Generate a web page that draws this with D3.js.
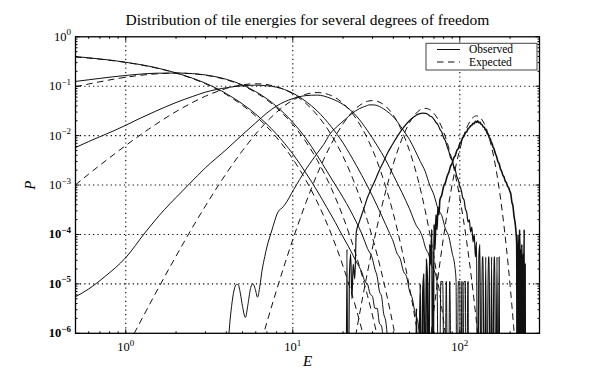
<!doctype html>
<html>
  <head>
    <title>Distribution of tile energies</title>
    <style>
      * { margin: 0; padding: 0; }
      body { background: #fff; }
      svg { display: block; }
      text { font-family: "Liberation Serif", "DejaVu Serif", serif; fill: #000; }
    </style>
    <script src="https://cdnjs.cloudflare.com/ajax/libs/d3/7.8.5/d3.min.js"></script>
  </head>
  <body>
    <script>
      // expected curves, [E, P]
      var exp2 = [[0.5,0.389],[0.6,0.370],[0.7,0.352],[0.85,0.327],[1,0.303],[1.2,0.274],[1.5,0.236],[2,0.184],[2.5,0.143],[3,0.112],[4,0.0677],[5,0.0410],[6,0.0249],[7,0.0151],[8,0.00916],[10,0.00337],[12,0.00124],[14,4.56e-4],[17,1.02e-4],[20,2.27e-5],[24,3.07e-6],[28,4.16e-7],[32,5.6e-8]];
      var exp4 = [[0.5,0.0973],[0.6,0.111],[0.7,0.123],[0.85,0.139],[1,0.152],[1.2,0.165],[1.5,0.177],[2,0.184],[2.5,0.179],[3,0.167],[4,0.135],[5,0.103],[6,0.0747],[7,0.0529],[8,0.0366],[10,0.0168],[12,0.00744],[14,0.00319],[17,8.65e-4],[20,2.27e-4],[24,3.69e-5],[28,5.82e-6],[32,9.0e-7],[36,1.37e-7]];
      var exp8 = [[0.5,1.01e-3],[0.6,1.67e-3],[0.7,2.52e-3],[0.85,4.18e-3],[1,6.32e-3],[1.2,9.88e-3],[1.5,0.0166],[2,0.0307],[2.5,0.0466],[3,0.0628],[4,0.0902],[5,0.107],[6,0.112],[7,0.108],[8,0.0977],[10,0.0702],[12,0.0446],[14,0.0261],[17,0.0104],[20,3.78e-3],[24,8.85e-4],[28,1.90e-4],[32,3.84e-5],[36,7.40e-6],[40,1.37e-6],[45,1.6e-7]];
      var exp16 = [[0.85,1.6e-7],[1,4.7e-7],[1.2,1.52e-6],[1.5,6.25e-6],[2,3.65e-5],[2.5,1.36e-4],[3,3.78e-4],[4,1.72e-3],[5,4.97e-3],[6,0.0108],[7,0.0193],[8,0.0298],[10,0.0522],[12,0.0688],[14,0.0745],[17,0.0647],[20,0.0450],[24,0.0218],[28,8.70e-3],[32,3.00e-3],[36,9.25e-4],[40,2.62e-4],[45,4.9e-5],[50,8.4e-6],[56,9.3e-7],[62,9.4e-8]];
      var exp32 = [[6,2.73e-7],[7,1.67e-6],[8,7.52e-6],[9,2.67e-5],[10,7.86e-5],[11,1.99e-4],[12,4.46e-4],[14,1.66e-3],[17,6.80e-3],[20,0.0174],[24,0.0362],[28,0.0495],[30,0.0512],[32,0.0496],[36,0.0393],[40,0.0258],[45,0.0124],[50,4.94e-3],[56,1.35e-3],[62,3.09e-4],[65,1.4e-4],[70,3.49e-5],[75,8.07e-6],[80,1.74e-6],[90,6.9e-8]];
      var exp64 = [[22,1.95e-7],[24,1.06e-6],[28,1.71e-5],[32,1.46e-4],[36,7.59e-4],[40,2.69e-3],[45,8.51e-3],[50,0.0183],[56,0.0306],[59,0.0344],[62,0.0357],[66,0.0336],[70,0.0282],[75,0.0196],[80,0.0119],[85,6.4e-3],[90,3.09e-3],[95,1.36e-3],[100,5.46e-4],[105,2.03e-4],[110,7.06e-5],[117,1.44e-5],[125,2.06e-6],[130,5.7e-7],[140,3.8e-8]];
      var exp128 = [[62,7.8e-8],[66,5.45e-7],[70,3.0e-6],[75,1.9e-5],[80,9.12e-5],[85,3.41e-4],[90,1.03e-3],[95,2.54e-3],[100,5.28e-3],[105,9.37e-3],[110,0.0144],[118,0.022],[126,0.0251],[132,0.0234],[140,0.0175],[150,9.09e-3],[160,3.57e-3],[170,1.1e-3],[180,2.71e-4],[190,5.5e-5],[200,9.4e-6],[210,1.37e-6],[220,1.7e-7]];

      // observed curves (1e-9 = empty bin, drawn down off the axis)
      var obs2 = [[0.5,0.398],[0.6,0.376],[0.7,0.356],[0.85,0.330],[1,0.305],[1.2,0.277],[1.5,0.239],[2,0.186],[2.5,0.146],[3,0.115],[4,0.0708],[5,0.0437],[6,0.0272],[7,0.0170],[8,0.0107],[10,0.00427],[12,0.00174],[14,7.6e-4],[16,3.5e-4],[18,1.74e-4],[20,8.9e-5],[22,5.0e-5],[24,2.8e-5],[26,1.66e-5],[27,1.12e-5],[28,1.0e-5],[29,6.3e-6],[30,5.6e-6],[31,3.2e-6],[32,3.2e-6],[33,1.6e-6],[34,1.4e-6],[35,6.3e-7],[36,5e-7]];
      var obs4 = [[0.5,0.125],[0.6,0.135],[0.7,0.144],[0.85,0.156],[1,0.165],[1.2,0.175],[1.5,0.183],[2,0.185],[2.5,0.180],[3,0.169],[4,0.138],[5,0.106],[6,0.0776],[7,0.0556],[8,0.0389],[10,0.0186],[12,0.0087],[14,0.00398],[16,0.00191],[18,0.001],[20,5.6e-4],[22,3.16e-4],[24,1.78e-4],[26,1.0e-4],[28,5.2e-5],[30,3.2e-5],[31,2.0e-5],[32,1.41e-5],[33,7.1e-6],[34,5.6e-6],[35,2.5e-6],[36,1.78e-6],[37,7.9e-7],[38,5e-7]];
      var obs8 = [[0.5,5.75e-3],[0.6,7.6e-3],[0.7,9.5e-3],[0.85,0.0126],[1,0.0162],[1.2,0.0219],[1.5,0.0309],[2,0.0468],[2.5,0.0617],[3,0.0759],[4,0.0933],[5,0.102],[6,0.105],[7,0.102],[8,0.0955],[10,0.0724],[12,0.049],[14,0.0316],[17,0.0151],[20,7.1e-3],[24,2.5e-3],[28,9.5e-4],[32,3.8e-4],[36,1.58e-4],[38,1.05e-4],[40,7.1e-5],[42,4.2e-5],[44,3.2e-5],[46,1.78e-5],[48,1.41e-5],[50,7.1e-6],[52,5e-6],[54,2.5e-6],[56,1.78e-6],[58,7.1e-7],[60,5e-7],[62,1.6e-7]];
      var obs16 = [[0.5,5.5e-6],[0.6,7.9e-6],[0.75,1.41e-5],[1,3.4e-5],[1.3,1.07e-4],[1.7,3.16e-4],[2,5.6e-4],[2.4,1.05e-3],[3,2.24e-3],[4,5.25e-3],[5,0.0105],[6,0.0182],[7,0.0288],[8,0.0398],[10,0.0562],[12,0.0646],[14,0.0661],[17,0.0562],[20,0.0427],[24,0.0251],[28,0.0126],[32,6.3e-3],[36,3.2e-3],[40,1.58e-3],[45,7.1e-4],[50,3.3e-4],[55,1.5e-4],[57.5,1.2e-4],[60,8.5e-5],[62.5,5.2e-5],[65,4.0e-5],[67.5,2.4e-5],[70,1.9e-5],[73,1.12e-5],[75,1e-9],[77,1.12e-5],[79,1.12e-5],[81,1e-9],[83,1.12e-5],[85,1e-9],[87,1.12e-5],[89,1e-9]];
      var obs32 = [[4.0,1e-7],[4.15,1e-6],[4.3,3.5e-6],[4.45,7.5e-6],[4.6,9.8e-6],[4.72,9.5e-6],[4.85,6.5e-6],[5.0,3.5e-6],[5.2,2.1e-6],[5.4,4.0e-6],[5.6,8.5e-6],[5.78,1.0e-5],[5.95,8e-6],[6.15,5.4e-6],[6.35,9e-6],[6.55,1.9e-5],[6.8,3.6e-5],[7.0,5.6e-5],[7.25,8.5e-5],[7.5,1.23e-4],[7.8,1.9e-4],[8.05,2.6e-4],[8.3,3.1e-4],[8.6,3.4e-4],[9.0,4.1e-4],[9.5,5.5e-4],[10.1,8e-4],[11,1.3e-3],[12,2.1e-3],[13,3.1e-3],[14,4.4e-3],[15.3,6.6e-3],[16.7,0.0108],[18.5,0.0155],[20.5,0.021],[22.6,0.028],[25,0.035],[27,0.039],[29,0.042],[31,0.0417],[33,0.0389],[35,0.0347],[38,0.0282],[41,0.0219],[44,0.0158],[47,0.0115],[50,8.3e-3],[54,5e-3],[58,3.0e-3],[62,1.9e-3],[66,1.0e-3],[70,6.3e-4],[74,3.3e-4],[78,2.4e-4],[82,1.3e-4],[86,9e-5],[90,4.2e-5],[93,2.5e-5],[95,1.12e-5],[96,1e-9],[98,1.12e-5],[100,1.12e-5],[101,1e-9],[103,1.12e-5],[104,1e-9],[106,1.12e-5],[108,1.12e-5],[109,1e-9],[112,1.12e-5],[113,1e-9]];
      var obs64 = [[20.8,1e-9],[21.1,5e-5],[21.4,1e-9],[21.8,1.26e-5],[22.2,4e-5],[22.6,5e-6],[23.0,2.5e-5],[23.5,1.26e-5],[24,1.12e-4],[25,1.78e-4],[26.5,3.16e-4],[28,5.6e-4],[29.7,8.9e-4],[31.5,1.38e-3],[33,2.0e-3],[35,3.0e-3],[37,4.5e-3],[39.5,6.6e-3],[42,9.3e-3],[45,0.0132],[48,0.0174],[51,0.0214],[54,0.0251],[57,0.0275],[60,0.0285],[62,0.0282],[64,0.0275],[66,0.0251],[68,0.024],[70,0.0214],[72,0.0186],[74,0.0166],[76,0.0135],[78,0.0117],[80,9.1e-3],[82,7.9e-3],[84,6.0e-3],[86,4.8e-3],[88,3.6e-3],[90,3.2e-3],[92,2.4e-3],[94,2.0e-3],[96,1.48e-3],[98,1.26e-3],[100,9.5e-4],[102,7.9e-4],[104,5.6e-4],[106,5.0e-4],[108,3.3e-4],[110,2.8e-4],[112,1.78e-4],[114,2.0e-4],[116,1.12e-4],[118,1.41e-4],[120,7.1e-5],[122,1e-4],[124,3.5e-5],[126,7.1e-5],[128,1e-9],[130,3.5e-5],[132,6.3e-5],[134,1e-9],[136,3.5e-5],[138,3.5e-5],[140,1e-9],[143,3.5e-5],[145,1e-9],[148,3.5e-5],[150,3.5e-5],[152,1e-9],[155,3.5e-5],[157,1e-9],[160,3.5e-5],[162,3.5e-5],[164,1e-9],[167,3.5e-5],[169,1e-9],[172,3.5e-5],[174,1e-9]];
      var obs128 = [[54,1e-9],[55,3.2e-6],[56,1e-9],[58,1e-5],[59,1e-9],[60,6.3e-6],[61,1.6e-5],[62,1e-9],[63,3.2e-5],[64,1e-5],[65,1e-9],[66,6.3e-5],[67,2.5e-5],[68,1.26e-4],[69,1e-9],[70,1.6e-4],[71,5e-5],[72,2.5e-4],[73,1.26e-4],[74,3.5e-4],[75,2.5e-4],[76,5e-4],[78,6.3e-4],[80,9.5e-4],[82,1.12e-3],[84,1.51e-3],[86,1.82e-3],[88,2.4e-3],[90,2.75e-3],[92,3.55e-3],[94,3.98e-3],[96,5.0e-3],[98,5.5e-3],[100,6.9e-3],[102,7.6e-3],[104,9.1e-3],[106,9.8e-3],[108,0.0115],[110,0.012],[112,0.0138],[114,0.0145],[116,0.0158],[118,0.0162],[120,0.0178],[122,0.0174],[124,0.0195],[126,0.0186],[128,0.020],[130,0.0182],[132,0.0186],[134,0.017],[136,0.0166],[138,0.0151],[140,0.0148],[142,0.0132],[144,0.0126],[146,0.011],[148,0.0105],[150,9.1e-3],[152,8.7e-3],[154,7.4e-3],[156,6.9e-3],[158,5.9e-3],[160,5.5e-3],[163,4.4e-3],[166,3.8e-3],[169,3.0e-3],[172,2.7e-3],[175,2.14e-3],[178,1.9e-3],[181,1.58e-3],[184,1.45e-3],[187,1.2e-3],[190,1.12e-3],[193,9.5e-4],[196,8.9e-4],[199,7.6e-4],[202,6.6e-4],[205,4.5e-4],[208,3.8e-4],[211,2.4e-4],[214,1.78e-4],[217,1.12e-4],[219,6.3e-5],[221,1e-9],[223,1e-4],[225,3.2e-5],[226,1e-9],[228,1.26e-4],[229,4e-5],[230,1e-9],[232,5e-5],[233,1e-9],[235,6.3e-5],[236,2e-5],[237,1e-9],[239,4e-5],[240,1e-9],[242,2.5e-5],[243,1.26e-4],[244,1e-9],[246,2.5e-5],[247,1e-9]];

      var observed = [obs2, obs4, obs8, obs16, obs32, obs64, obs128];
      var expected = [exp2, exp4, exp8, exp16, exp32, exp64, exp128];

      var xTicks = [1, 10, 100];
      var yTicks = [1, 1e-1, 1e-2, 1e-3, 1e-4, 1e-5, 1e-6];

      var width = 600, height = 371;
      var plotL = 75.5, plotR = 539.5, plotT = 36.8, plotB = 333.3;

      var x = d3.scaleLog().domain([0.5, 300]).range([plotL, plotR]);
      var y = d3.scaleLog().domain([1e-6, 1]).range([plotB, plotT]);

      var svg = d3.select("body").append("svg")
                  .attr("width", width)
                  .attr("height", height);

      svg.append("clipPath").attr("id", "plotclip")
         .append("rect")
         .attr("x", plotL).attr("y", plotT)
         .attr("width", plotR - plotL).attr("height", plotB - plotT);

      // dotted grid on the decades
      svg.selectAll("line.gx").data(xTicks).enter().append("line")
         .attr("class", "gx")
         .attr("x1", function(d) { return x(d); }).attr("x2", function(d) { return x(d); })
         .attr("y1", plotT).attr("y2", plotB)
         .attr("stroke", "#000").attr("stroke-width", 1.1)
         .attr("stroke-dasharray", "1.2,3.2");
      svg.selectAll("line.gy").data(yTicks.slice(1, 6)).enter().append("line")
         .attr("class", "gy")
         .attr("y1", function(d) { return y(d); }).attr("y2", function(d) { return y(d); })
         .attr("x1", plotL).attr("x2", plotR)
         .attr("stroke", "#000").attr("stroke-width", 1.1)
         .attr("stroke-dasharray", "1.2,3.2");

      var line = d3.line()
                   .x(function(d) { return x(d[0]); })
                   .y(function(d) { return y(d[1]); })
                   .curve(d3.curveMonotoneX);

      var curves = svg.append("g").attr("clip-path", "url(#plotclip)");
      curves.selectAll("path.exp").data(expected).enter().append("path")
            .attr("class", "exp")
            .attr("d", line)
            .attr("fill", "none")
            .attr("stroke", "#111")
            .attr("stroke-width", 1)
            .attr("stroke-dasharray", "6.5,4.5");
      // the 128-dof histogram is dense noise, so it reads as a heavier line
      curves.selectAll("path.obs").data(observed).enter().append("path")
            .attr("class", "obs")
            .attr("d", line)
            .attr("fill", "none")
            .attr("stroke", "#111")
            .attr("stroke-width", function(d, i) { return i == 6 ? 1.6 : (i == 5 ? 1.2 : 1); });

      // frame
      svg.append("rect")
         .attr("x", plotL).attr("y", plotT)
         .attr("width", plotR - plotL).attr("height", plotB - plotT)
         .attr("fill", "none").attr("stroke", "#000").attr("stroke-width", 1.3);

      // ticks, inside on all four sides
      var xMinor = [];
      [0.1, 1, 10, 100].forEach(function(p) {
        for (var m = 2; m <= 9; m++) {
          var v = m * p;
          if (v >= 0.5 && v <= 300) xMinor.push(v);
        }
      });
      var yMinor = [];
      [1e-6, 1e-5, 1e-4, 1e-3, 1e-2, 1e-1].forEach(function(p) {
        for (var m = 2; m <= 9; m++) yMinor.push(m * p);
      });

      var ticks = svg.append("g").attr("stroke", "#000").attr("stroke-width", 1);
      function xTick(v, len) {
        ticks.append("line").attr("x1", x(v)).attr("x2", x(v)).attr("y1", plotB).attr("y2", plotB - len);
        ticks.append("line").attr("x1", x(v)).attr("x2", x(v)).attr("y1", plotT).attr("y2", plotT + len);
      }
      function yTick(v, len) {
        ticks.append("line").attr("y1", y(v)).attr("y2", y(v)).attr("x1", plotL).attr("x2", plotL + len);
        ticks.append("line").attr("y1", y(v)).attr("y2", y(v)).attr("x1", plotR).attr("x2", plotR - len);
      }
      xTicks.forEach(function(v) { xTick(v, 4); });
      xMinor.forEach(function(v) { xTick(v, 2); });
      yTicks.forEach(function(v) { yTick(v, 4); });
      yMinor.forEach(function(v) { yTick(v, 2); });

      // tick labels
      var xl = svg.selectAll("text.xl").data(xTicks).enter().append("text")
                  .attr("class", "xl")
                  .attr("x", function(d) { return x(d); })
                  .attr("y", 351)
                  .attr("text-anchor", "middle")
                  .attr("font-size", "12.5px");
      xl.append("tspan").text("10");
      xl.append("tspan").attr("dy", -5.5).attr("font-size", "9px")
        .text(function(d) { return Math.round(Math.log10(d)); });

      var yl = svg.selectAll("text.yl").data(yTicks).enter().append("text")
                  .attr("class", "yl")
                  .attr("x", 71)
                  .attr("y", function(d) { return y(d) + 4; })
                  .attr("text-anchor", "end")
                  .attr("font-size", "12.5px")
                  .attr("font-weight", function(d) { return d < 2e-4 ? "bold" : "normal"; });
      yl.append("tspan").text("10");
      yl.append("tspan").attr("dy", -5.5).attr("font-size", "9px")
        .text(function(d) { var e = Math.round(Math.log10(d)); return e < 0 ? "\u2212" + (-e) : e; });

      // titles
      svg.append("text")
         .attr("x", (plotL + plotR) / 2).attr("y", 25)
         .attr("text-anchor", "middle")
         .attr("font-size", "15.5px")
         .text("Distribution of tile energies for several degrees of freedom");
      svg.append("text")
         .attr("x", (plotL + plotR) / 2).attr("y", 366)
         .attr("text-anchor", "middle")
         .attr("font-size", "15px").attr("font-style", "italic")
         .text("E");
      svg.append("text")
         .attr("transform", "translate(35," + ((plotT + plotB) / 2) + ") rotate(-90)")
         .attr("text-anchor", "middle")
         .attr("font-size", "15px").attr("font-style", "italic")
         .text("P");

      // legend
      var lg = svg.append("g");
      lg.append("rect")
        .attr("x", 426).attr("y", 43.3).attr("width", 111).attr("height", 26.7)
        .attr("fill", "#fff").attr("stroke", "#444").attr("stroke-width", 1);
      lg.append("line").attr("x1", 437).attr("x2", 460).attr("y1", 49.5).attr("y2", 49.5)
        .attr("stroke", "#111").attr("stroke-width", 1);
      lg.append("line").attr("x1", 437).attr("x2", 460).attr("y1", 62).attr("y2", 62)
        .attr("stroke", "#111").attr("stroke-width", 1).attr("stroke-dasharray", "6.5,4.5");
      lg.append("text").attr("x", 469).attr("y", 52.8).attr("font-size", "11.5px").text("Observed");
      lg.append("text").attr("x", 469).attr("y", 66.3).attr("font-size", "11.5px").text("Expected");
    </script>
  </body>
</html>
